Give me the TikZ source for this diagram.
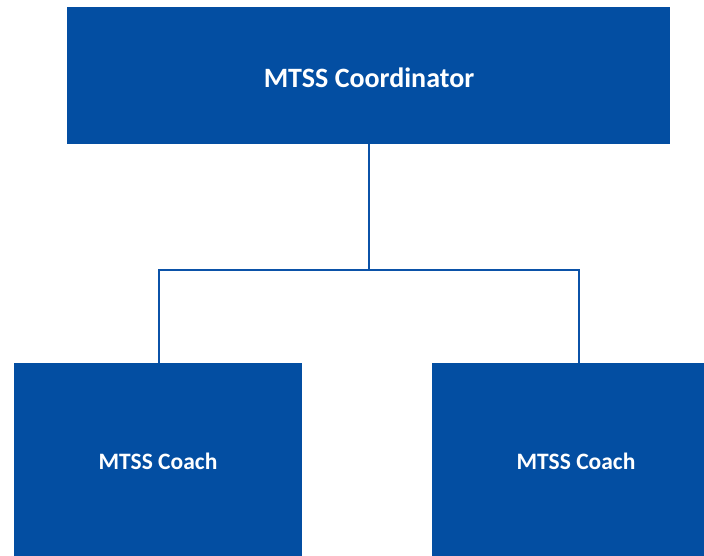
\documentclass[tikz,border=0pt]{standalone}
\usepackage{fontspec}
\setmainfont{Carlito}
\definecolor{boxblue}{HTML}{034EA2}
\definecolor{lineblue}{HTML}{0B52A8}
\begin{document}
\begin{tikzpicture}[x=1pt,y=-1pt,
  box/.style={fill=boxblue,draw=none,inner sep=0pt,outer sep=0pt,text=white,font=\bfseries},
  lbl/.style={text=white,inner sep=0pt},
  conn/.style={draw=lineblue,line width=1.6pt}]
\useasboundingbox (0,0) rectangle (704,556);
\node[box,minimum width=603pt,minimum height=137pt] (top) at (368.5,75.5) {};
\node[lbl,font=\bfseries\fontsize{28}{32}\selectfont] (toplabel) at (369,77.5) {MTSS Coordinator};
\node[box,minimum width=288pt,minimum height=193pt] (left) at (158,459.5) {};
\node[lbl,font=\bfseries\fontsize{23.5}{28}\selectfont] (leftlabel) at (158,461.5) {MTSS Coach};
\node[box,minimum width=272pt,minimum height=193pt] (right) at (568,459.5) {};
\node[lbl,font=\bfseries\fontsize{23.5}{28}\selectfont] (rightlabel) at (576,461.5) {MTSS Coach};
\coordinate (mid) at (369,270);
\draw[conn] (top.south -| mid) -- (mid);
\draw[conn] (left.north -| 159,0) -- (159,270) -- (579,270) -- (right.north -| 579,0);
\end{tikzpicture}
\end{document}
